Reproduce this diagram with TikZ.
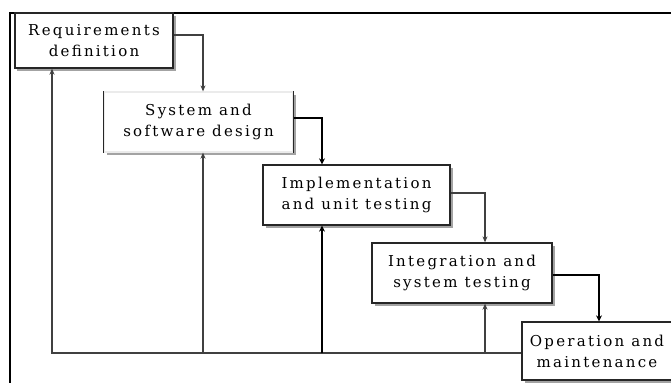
\documentclass[tikz,border=0pt]{standalone}
\usepackage{fontspec}
\setmainfont{DejaVu Serif}[LetterSpace=15]
\usetikzlibrary{arrows.meta,shadows}
\begin{document}
\begin{tikzpicture}[x=1bp,y=-1bp,
  stage/.style={draw=black!85,line width=1.3bp,fill=white,align=center,inner sep=0pt,
     font=\fontsize{15bp}{21bp}\selectfont,
     drop shadow={shadow xshift=2.5bp,shadow yshift=-2.5bp,fill=black!45,opacity=0.8}},
  conn/.style={draw=black!75,line width=1.5bp,-{Stealth[length=6bp,width=5bp]}},
  thickconn/.style={conn,draw=black,line width=2.6bp,-{Stealth[length=6bp,width=6bp]}},
  frame/.style={draw=black,line width=2bp}]
\useasboundingbox (0,0) rectangle (671,382);
\clip (0,0) rectangle (671,382);
\draw[frame] (10,383) -- (10,13) -- (672,13);
% stages
\node[stage,minimum width=158bp,minimum height=55bp] (req) at (94,40.5) {Requirements\\definition};
\node[stage,draw=black!8,minimum width=189bp,minimum height=60bp] (sys) at (198.5,122) {System and\\software design};
\draw[draw=black!85,line width=1.3bp] (sys.north west) -- (sys.south west);
\draw[draw=black!85,line width=1.3bp] (sys.north east) -- (sys.south east);
\node[stage,minimum width=187bp,minimum height=60bp] (impl) at (356.5,195) {Implementation\\and unit testing};
\node[stage,minimum width=180bp,minimum height=60bp] (integ) at (462,273) {Integration and\\system testing};
\node[stage,minimum width=150bp,minimum height=58bp] (op) at (597,351) {Operation and\\maintenance};
% forward flow
\draw[conn] ([yshift=5.5bp]req.east) -| ([xshift=4.5bp]sys.north);
\draw[thickconn] ([yshift=4bp]sys.east) -| ([xshift=-34.5bp]impl.north);
\draw[conn] ([yshift=2bp]impl.east) -| ([xshift=23bp]integ.north);
\draw[thickconn] ([yshift=-2bp]integ.east) -| ([xshift=2bp]op.north);
% feedback
\coordinate (fb) at ([yshift=-2bp]op.west);
\draw[conn] (fb) -| ([xshift=-42bp]req.south);
\draw[conn] ([xshift=4.5bp]sys.south |- fb) -- ([xshift=4.5bp]sys.south);
\draw[thickconn] ([xshift=-34.5bp]impl.south |- fb) -- ([xshift=-34.5bp]impl.south);
\draw[conn] ([xshift=23bp]integ.south |- fb) -- ([xshift=23bp]integ.south);
\end{tikzpicture}
\end{document}
